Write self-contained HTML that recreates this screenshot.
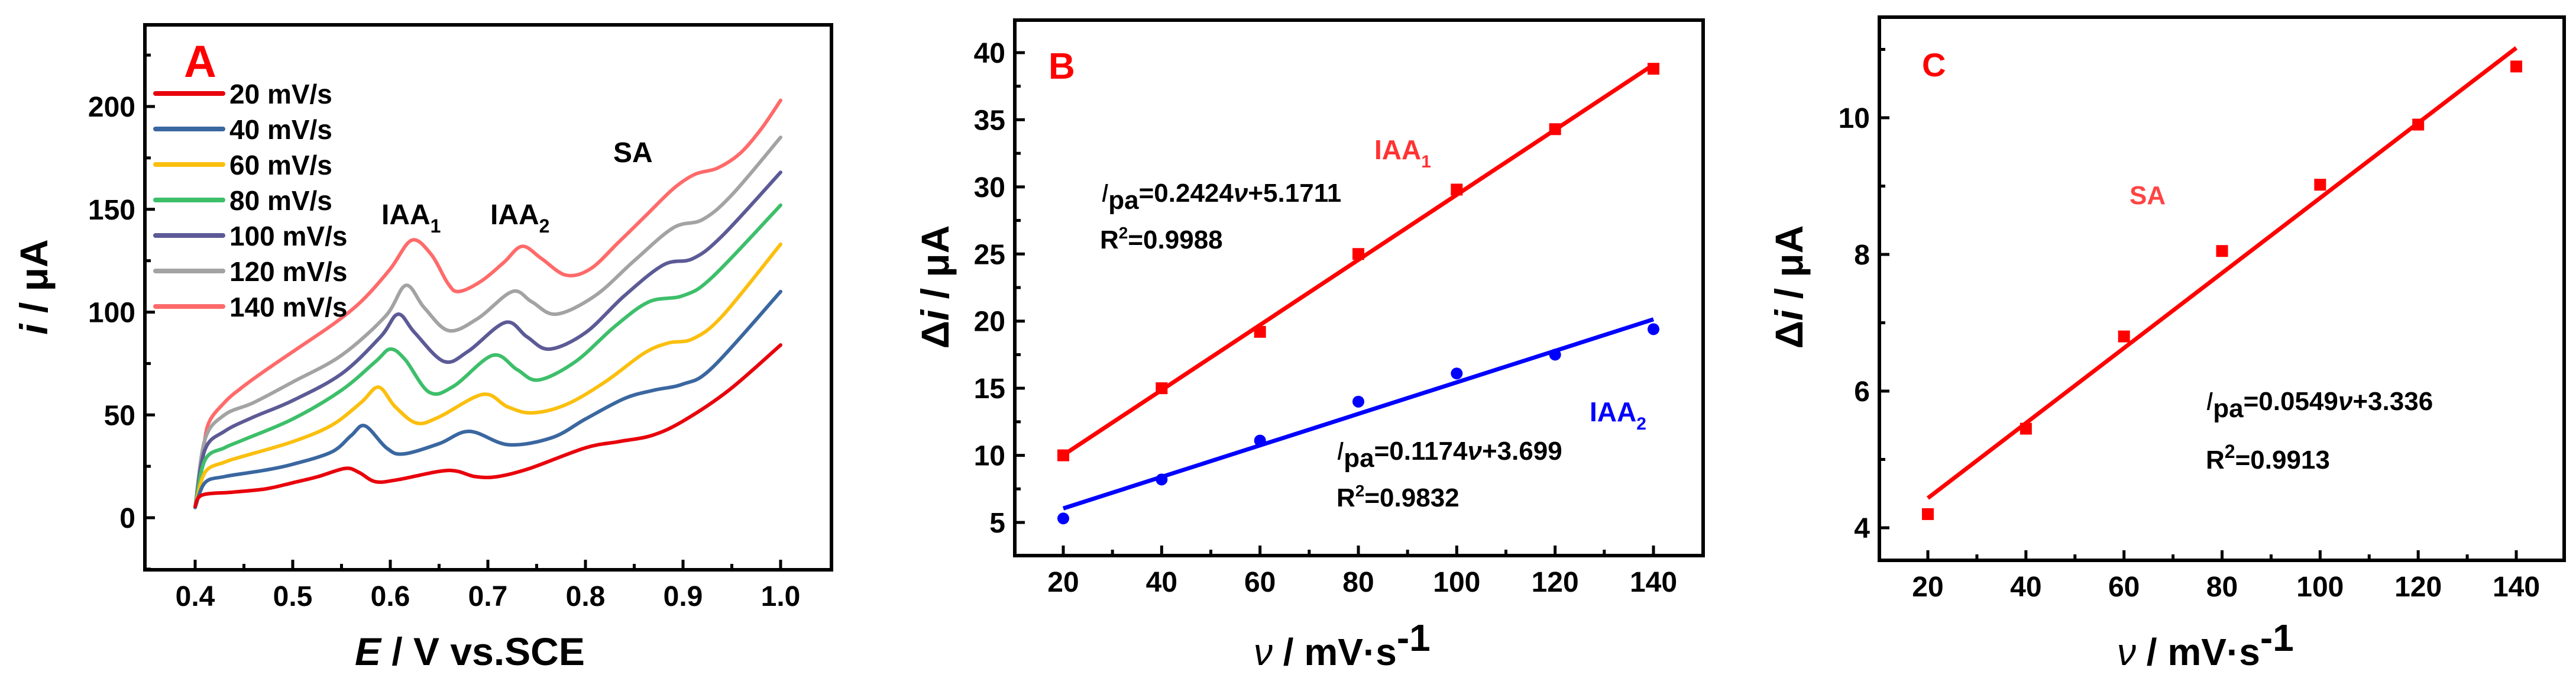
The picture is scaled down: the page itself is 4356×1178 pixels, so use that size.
<!DOCTYPE html>
<html><head><meta charset="utf-8"><style>
html,body{margin:0;padding:0;background:#fff}
svg{display:block}
text{font-family:"Liberation Sans",Arial,sans-serif;font-weight:bold}
</style></head><body>
<svg id="fig" xmlns="http://www.w3.org/2000/svg" width="4356" height="1178" viewBox="0 0 4356 1178"></svg>
<script>
// ---------- Panel A data ----------
const aLabels = ["20 mV/s","40 mV/s","60 mV/s","80 mV/s","100 mV/s","120 mV/s","140 mV/s"];
const aColors = ["#e8000b","#3a67a0","#fbbf0e","#3dbf6a","#5c5a96","#a3a3a3","#ff6a6a"];
const aE20 = [0.40,0.407,0.438,0.472,0.5,0.526,0.554,0.568,0.585,0.608,0.659,0.687,0.71,0.743,0.8,0.834,0.868,0.9,0.947,1.0];
const aI20 = [5.5,11,12.4,14,17,20,24,22,17.5,18.5,23,20,20,24,34,37,40,47,62,84];
const aE40 = [0.40,0.41,0.43,0.47,0.5,0.54,0.56,0.574,0.596,0.613,0.65,0.681,0.721,0.766,0.8,0.84,0.87,0.9,0.93,1.0];
const aI40 = [5,17,20,23,26,32,40,44.7,34,31,36,42,35.5,39,48,58,62,65,73,110];
const aE60 = [0.40,0.41,0.43,0.45,0.5,0.54,0.57,0.588,0.605,0.627,0.65,0.695,0.72,0.745,0.78,0.82,0.86,0.885,0.91,0.94,1.0];
const aI60 = [5,22,27,30,37,45,56,63.5,54,46,49,60,54,51,55,66,80,85,87,98,133];
const aE80 = [0.40,0.41,0.43,0.45,0.5,0.55,0.585,0.6,0.615,0.64,0.665,0.705,0.73,0.752,0.79,0.83,0.865,0.9,0.93,1.0];
const aI80 = [5,28,34,38,48,62,76,82,77,61,64,79,72,67,76,93,105,108,117,152];
const aE100 = [0.40,0.41,0.43,0.46,0.5,0.55,0.59,0.608,0.625,0.655,0.68,0.718,0.74,0.763,0.8,0.84,0.88,0.91,0.94,1.0];
const aI100 = [5,33,42,49,57,70,88,99,90,76,81,95,88,82,90,108,123,126,137,168];
const aE120 = [0.40,0.41,0.43,0.46,0.5,0.55,0.595,0.616,0.635,0.66,0.69,0.725,0.745,0.77,0.81,0.85,0.89,0.92,0.95,1.0];
const aI120 = [5,38,50,56,66,79,98,113,102,91,97,110,105,99,108,125,141,145,157,185];
const aE140 = [0.40,0.407,0.413,0.43,0.447,0.47,0.504,0.544,0.572,0.6,0.622,0.642,0.659,0.67,0.693,0.716,0.735,0.755,0.78,0.805,0.834,0.862,0.89,0.912,0.935,0.958,0.98,1.0];
const aI140 = [5.5,25,45,56,63,71,82,95,106,121,135,128,114,110,115,124,132,126,118,121,134,147,160,167,170,177,189,203];
const aYTicks = [0,50,100,150,200];
const aXTicks = [0.4,0.5,0.6,0.7,0.8,0.9,1.0];
// ---------- Panel B data ----------
const bX = [20,40,60,80,100,120,140];
const bIAA1 = [10,15,19.2,25,29.8,34.3,38.8];
const bIAA2 = [5.3,8.2,11.1,14,16.1,17.5,19.4];
const bFit1 = [0.2424,5.1711];
const bFit2 = [0.1174,3.699];
const bYTicks = [5,10,15,20,25,30,35,40];
const bXTicks = [20,40,60,80,100,120,140];
// ---------- Panel C data ----------
const cX = [20,40,60,80,100,120,140];
const cSA = [4.2,5.45,6.8,8.05,9.02,9.9,10.75];
const cFit = [0.0549,3.336];
const cYTicks = [4,6,8,10];
const cXTicks = [20,40,60,80,100,120,140];

const NS="http://www.w3.org/2000/svg";
const svg=document.getElementById('fig');
function mk(tag,attrs,parent){const e=document.createElementNS(NS,tag);for(const k in attrs)e.setAttribute(k,attrs[k]);(parent||svg).appendChild(e);return e;}
function scale(d0,d1,r0,r1){return v=>r0+(v-d0)/(d1-d0)*(r1-r0);}
function smoothPath(pts){
  let d=`M${pts[0][0].toFixed(1)},${pts[0][1].toFixed(1)}`;
  for(let i=0;i<pts.length-1;i++){
    const p0=pts[Math.max(0,i-1)],p1=pts[i],p2=pts[i+1],p3=pts[Math.min(pts.length-1,i+2)];
    const c1=[p1[0]+(p2[0]-p0[0])/6,p1[1]+(p2[1]-p0[1])/6];
    const c2=[p2[0]-(p3[0]-p1[0])/6,p2[1]-(p3[1]-p1[1])/6];
    d+=`C${c1[0].toFixed(1)},${c1[1].toFixed(1)} ${c2[0].toFixed(1)},${c2[1].toFixed(1)} ${p2[0].toFixed(1)},${p2[1].toFixed(1)}`;
  }
  return d;
}
function axes(g,box,xs,ys,xTicks,yTicks,xMinor,yMinor,fmtX,fmtY){
  const fr=mk('rect',{x:box.l,y:box.t,width:box.r-box.l,height:box.b-box.t,fill:'none',stroke:'#000','stroke-width':6},g);
  
  
  xTicks.forEach(v=>{
    const x=xs(v);
    const t=mk('line',{x1:x,x2:x,y1:box.b,y2:box.b-17,stroke:'#000','stroke-width':5},g);
    
    
    const lb=mk('text',{x:x,y:box.b+61,'font-size':48,'text-anchor':'middle'},g);
    lb.textContent=fmtX(v);
    
    
  });
  xMinor.forEach(v=>{const x=xs(v);const t=mk('line',{x1:x,x2:x,y1:box.b,y2:box.b-10,stroke:'#000','stroke-width':5},g);
    
    });
  yTicks.forEach(v=>{
    const y=ys(v);
    const t=mk('line',{x1:box.l,x2:box.l+17,y1:y,y2:y,stroke:'#000','stroke-width':5},g);
    
    
    const lb=mk('text',{x:box.l-16,y:y+17,'font-size':48,'text-anchor':'end'},g);
    lb.textContent=fmtY(v);
    
    
  });
  yMinor.forEach(v=>{const y=ys(v);const t=mk('line',{x1:box.l,x2:box.l+10,y1:y,y2:y,stroke:'#000','stroke-width':5},g);
    
    });
}
function rich(g,x,y,size,fill,html,name){
  const t=mk('text',{x:x,y:y,'font-size':size,fill:fill},g);
  t.innerHTML=html;
  
  
  return t;
}

// ===== Panel A =====
(function(){
  const g=mk('g',{});
  
  
  const box={l:245,r:1406,t:42,b:963};
  const xs=scale(0.4,1.0,330,1320), ys=scale(0,200,875,180);
  axes(g,box,xs,ys,aXTicks,aYTicks,[0.45,0.55,0.65,0.75,0.85,0.95],[-25,25,75,125,175,225],v=>v.toFixed(1),v=>String(v));
  const Es=[aE20,aE40,aE60,aE80,aE100,aE120,aE140], Is=[aI20,aI40,aI60,aI80,aI100,aI120,aI140];
  for(let k=Es.length-1;k>=0;k--){
    const pts=Es[k].map((e,i)=>[xs(e),ys(Is[k][i])]);
    const p=mk('path',{d:smoothPath(pts),fill:'none',stroke:aColors[k],'stroke-width':6,'stroke-linejoin':'round','stroke-linecap':'round'},g);
    
    
  }
  aLabels.forEach((lab,k)=>{
    const y=158+k*60;
    const l=mk('line',{x1:263,x2:377,y1:y,y2:y,stroke:aColors[k],'stroke-width':8,'stroke-linecap':'round'},g);
    
    
    const t=mk('text',{x:388,y:y+17,'font-size':46},g);
    t.textContent=lab;
    
    
  });
  rich(g,311,130,76,'#f00','A','panel-label-a');
  rich(g,645,379,48,'#000','IAA<tspan font-size="32" dy="14">1</tspan>','peak-label-iaa1');
  rich(g,829,379,48,'#000','IAA<tspan font-size="32" dy="14">2</tspan>','peak-label-iaa2');
  rich(g,1037,274,48,'#000','SA','peak-label-sa');
  rich(g,600,1124,66,'#000','<tspan font-style="italic">E</tspan> / V vs.SCE','x-axis-title');
  const yt=rich(g,0,0,66,'#000','<tspan font-style="italic">i</tspan> / μA','y-axis-title');
  yt.setAttribute('text-anchor','middle');
  yt.setAttribute('transform','translate(80,485) rotate(-90)');
})();

// ===== Panel B =====
(function(){
  const g=mk('g',{});
  
  
  const box={l:1716,r:2880,t:34,b:939};
  const xs=scale(20,140,1798,2796), ys=scale(5,40,883,89);
  axes(g,box,xs,ys,bXTicks,bYTicks,[30,50,70,90,110,130],[7.5,12.5,17.5,22.5,27.5,32.5,37.5],v=>String(v),v=>String(v));
  [[bFit1,'#f00','fit-line-iaa1'],[bFit2,'#00f','fit-line-iaa2']].forEach(([f,c,n])=>{
    const l=mk('line',{x1:xs(bX[0]),x2:xs(bX[bX.length-1]),y1:ys(f[0]*bX[0]+f[1]),y2:ys(f[0]*bX[bX.length-1]+f[1]),stroke:c,'stroke-width':7},g);
    
    
  });
  bX.forEach((x,i)=>{
    const s=mk('rect',{x:xs(x)-10,y:ys(bIAA1[i])-10,width:20,height:20,fill:'#f00'},g);
    
    
    const c=mk('circle',{cx:xs(x),cy:ys(bIAA2[i]),r:10,fill:'#00f'},g);
    
    
  });
  rich(g,1773,133,62,'#f00','B','panel-label-b');
  rich(g,2324,269,46,'#f33','IAA<tspan font-size="30" dy="14">1</tspan>','series-label-iaa1');
  rich(g,2688,712,46,'#00f','IAA<tspan font-size="30" dy="14">2</tspan>','series-label-iaa2');
  rich(g,1862,341,44,'#000','<tspan font-style="italic" font-weight="normal">I</tspan><tspan dy="12">pa</tspan><tspan dy="-12">=0.2424</tspan><tspan font-style="italic">ν</tspan>+5.1711','equation-iaa1');
  rich(g,1860,420,44,'#000','R<tspan font-size="28" dy="-17">2</tspan><tspan dy="17">=0.9988</tspan>','r2-iaa1');
  rich(g,2260,777,44,'#000','<tspan font-style="italic" font-weight="normal">I</tspan><tspan dy="12">pa</tspan><tspan dy="-12">=0.1174</tspan><tspan font-style="italic">ν</tspan>+3.699','equation-iaa2');
  rich(g,2260,856,44,'#000','R<tspan font-size="28" dy="-17">2</tspan><tspan dy="17">=0.9832</tspan>','r2-iaa2');
  rich(g,2120,1124,64,'#000','<tspan font-style="italic" font-weight="normal">ν</tspan> / mV·s<tspan dy="-24">-1</tspan>','x-axis-title');
  const yt=rich(g,0,0,66,'#000','Δ<tspan font-style="italic">i</tspan> / μA','y-axis-title');
  yt.setAttribute('text-anchor','middle');
  yt.setAttribute('transform','translate(1604,485) rotate(-90)');
})();

// ===== Panel C =====
(function(){
  const g=mk('g',{});
  
  
  const box={l:3178,r:4336,t:29,b:947};
  const xs=scale(20,140,3260,4255), ys=scale(4,10,892,199);
  axes(g,box,xs,ys,cXTicks,cYTicks,[30,50,70,90,110,130],[5,7,9,11],v=>String(v),v=>String(v));
  const l=mk('line',{x1:xs(cX[0]),x2:xs(cX[cX.length-1]),y1:ys(cFit[0]*cX[0]+cFit[1]),y2:ys(cFit[0]*cX[cX.length-1]+cFit[1]),stroke:'#f00','stroke-width':7},g);
  
  
  cX.forEach((x,i)=>{
    const s=mk('rect',{x:xs(x)-10,y:ys(cSA[i])-10,width:20,height:20,fill:'#f00'},g);
    
    
  });
  rich(g,3250,129,56,'#f00','C','panel-label-c');
  rich(g,3601,345,44,'#f44','SA','series-label-sa');
  rich(g,3730,693,44,'#000','<tspan font-style="italic" font-weight="normal">I</tspan><tspan dy="12">pa</tspan><tspan dy="-12">=0.0549</tspan><tspan font-style="italic">ν</tspan>+3.336','equation-sa');
  rich(g,3730,792,44,'#000','R<tspan font-size="32" dy="-18">2</tspan><tspan dy="18">=0.9913</tspan>','r2-sa');
  rich(g,3580,1124,64,'#000','<tspan font-style="italic" font-weight="normal">ν</tspan> / mV·s<tspan dy="-24">-1</tspan>','x-axis-title');
  const yt=rich(g,0,0,66,'#000','Δ<tspan font-style="italic">i</tspan> / μA','y-axis-title');
  yt.setAttribute('text-anchor','middle');
  yt.setAttribute('transform','translate(3048,485) rotate(-90)');
})();
</script>
</body></html>
